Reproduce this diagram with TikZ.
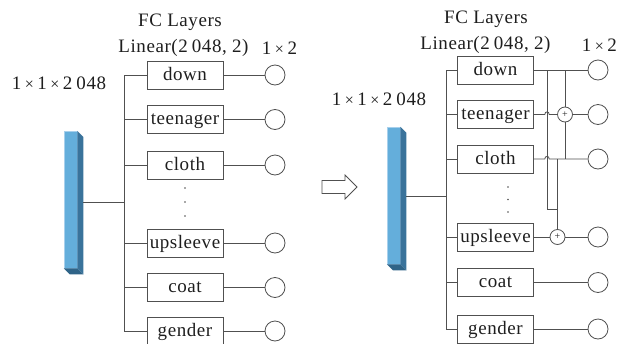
\documentclass[tikz,border=0pt]{standalone}
\usepackage{fontspec}
\setmainfont{Liberation Serif}
\newfontfamily\lblfont{Liberation Serif}[LetterSpace=3]
\usetikzlibrary{calc}
\definecolor{linec}{HTML}{505050}
\definecolor{txtc}{HTML}{1E1E1E}
\definecolor{barfront}{HTML}{64AEDB}
\definecolor{barlight}{HTML}{A8D0EC}
\definecolor{barside}{HTML}{3A739B}
\definecolor{barbottom}{HTML}{2F6488}
% digit-group gap and spaced multiplication sign
\newcommand{\gapsp}{\hspace{4pt}}
\newcommand{\tms}{\hspace{3.5pt}{\fontsize{16pt}{16pt}\selectfont ×}\hspace{3.5pt}}
\tikzset{
  lbl/.style={text=txtc, inner sep=0pt, font={\lblfont\fontsize{19pt}{21pt}\selectfont}},
  fcbox/.style={draw=linec, line width=0.8pt, minimum width=76pt, minimum height=28pt,
    inner sep=0pt, text height=13pt, text depth=3pt, text=txtc,
    font={\lblfont\fontsize{19pt}{21pt}\selectfont}},
  outc/.style={circle, draw=linec, line width=0.8pt, minimum size=20pt, inner sep=0pt},
  plusc/.style={circle, draw=linec, line width=0.8pt, minimum size=15pt, inner sep=0pt,
    text=txtc, font=\fontsize{10pt}{10pt}\selectfont},
  wire/.style={draw=linec, line width=0.8pt},
  barnode/.style={rectangle, fill=barfront, draw=barlight, line width=0.5pt,
    minimum width=13pt, minimum height=137pt, inner sep=0pt},
}
\begin{document}
\begin{tikzpicture}[x=1pt,y=-1pt]
\useasboundingbox (0,0) rectangle (618,343);

% ---------------- left network ----------------
\node[lbl] (fcL) at (180,22) {FC Layers};
\node[lbl] (linL) at (183.5,48) {Linear(2\gapsp 048, 2)};
\node[lbl] (outdimL) at (279.5,48) {1\tms 2};
\node[lbl] (indimL) at (59,83) {1\tms 1\tms 2\gapsp 048};

% feature bar
\node[barnode] (barL) at (70.5,199.5) {};
\fill[barside] (barL.north east) -- ++(6,6) -- ($(barL.south east)+(6,6)$) -- (barL.south east) -- cycle;
\fill[barbottom] (barL.south west) -- (barL.south east) -- ++(6,6) -- ($(barL.south west)+(6,6)$) -- cycle;
\coordinate (barLout) at ($(barL.east)+(6,3)$);

\node[fcbox] (downL) at (185,75) {down};
\node[fcbox] (teenL) at (185,119.5) {teenager};
\node[fcbox] (clothL) at (185,165) {cloth};
\node[fcbox] (upL) at (185,243) {upsleeve};
\node[fcbox] (coatL) at (185,287.5) {coat};
\node[fcbox] (genderL) at (185,331) {gender};

\fill[linec] (185,188) circle (0.9) (185,202) circle (0.9) (185,216) circle (0.9);

\node[outc] (oDownL) at (275,75) {};
\node[outc] (oTeenL) at (275,119.5) {};
\node[outc] (oClothL) at (275,165) {};
\node[outc] (oUpL) at (275,243) {};
\node[outc] (oCoatL) at (275,287.5) {};
\node[outc] (oGenderL) at (275,331) {};

\coordinate (busL) at (124,0);
\draw[wire] (downL.west) -- (downL.west -| busL) -- (genderL.west -| busL) -- (genderL.west);
\foreach \b in {teenL,clothL,upL,coatL}
  \draw[wire] (\b.west -| busL) -- (\b.west);
\draw[wire] (barLout) -- (barLout -| busL);
\foreach \b/\o in {downL/oDownL,teenL/oTeenL,clothL/oClothL,upL/oUpL,coatL/oCoatL,genderL/oGenderL}
  \draw[wire] (\b.east) -- (\o.west);

% ---------------- transition arrow ----------------
\draw[linec, line width=0.8pt, fill=white] (322,180.5) -- (345,180.5) -- (345,175) -- (357,187)
  -- (345,199) -- (345,193.5) -- (322,193.5) -- cycle;

% ---------------- right network ----------------
\node[lbl] (fcR) at (486,19) {FC Layers};
\node[lbl] (linR) at (485.5,45) {Linear(2\gapsp 048, 2)};
\node[lbl, anchor=east] (outdimR) at (617,45) {1\tms 2};
\node[lbl] (indimR) at (379,99) {1\tms 1\tms 2\gapsp 048};

\node[barnode] (barR) at (393.5,195.5) {};
\fill[barside] (barR.north east) -- ++(6,6) -- ($(barR.south east)+(6,6)$) -- (barR.south east) -- cycle;
\fill[barbottom] (barR.south west) -- (barR.south east) -- ++(6,6) -- ($(barR.south west)+(6,6)$) -- cycle;
\coordinate (barRout) at ($(barR.east)+(6,1)$);

\node[fcbox] (downR) at (495.5,70) {down};
\node[fcbox] (teenR) at (495.5,114.5) {teenager};
\node[fcbox] (clothR) at (495.5,159) {cloth};
\node[fcbox] (upR) at (495.5,237) {upsleeve};
\node[fcbox] (coatR) at (495.5,282.5) {coat};
\node[fcbox] (genderR) at (495.5,329) {gender};

\fill[linec] (508,187) circle (0.9) (508,199.5) circle (0.9) (508,212) circle (0.9);

\node[outc] (oDownR) at (598,70) {};
\node[outc] (oTeenR) at (598,114.5) {};
\node[outc] (oClothR) at (598,159) {};
\node[outc] (oUpR) at (598,237) {};
\node[outc] (oCoatR) at (598,282.5) {};
\node[outc] (oGenderR) at (598,329) {};

\node[plusc] (plusTeen) at (565,114.5) {+};
\node[plusc] (plusUp) at (557.5,237) {+};

\coordinate (busR) at (446,0);
\draw[wire] (downR.west) -- (downR.west -| busR) -- (genderR.west -| busR) -- (genderR.west);
\foreach \b in {teenR,clothR,upR,coatR}
  \draw[wire] (\b.west -| busR) -- (\b.west);
\draw[wire] (barRout) -- (barRout -| busR);

% straight outputs
\draw[wire] (downR.east) -- (oDownR.west);
\draw[wire] (coatR.east) -- (oCoatR.west);
\draw[wire] (genderR.east) -- (oGenderR.west);
\draw[wire] (plusTeen.east) -- (oTeenR.west);
\draw[wire] (plusUp.east) -- (oUpR.west);
\draw[wire] (upR.east) -- (plusUp.west);

% outputs that hop over the down-branch feed line
\coordinate (feedX) at (547,0);
\draw[wire] (teenR.east) -- ($(teenR.east -| feedX)+(-2.2,0)$)
  .. controls ($(teenR.east -| feedX)+(-2.2,-3.5)$) and ($(teenR.east -| feedX)+(2.2,-3.5)$)
  .. ($(teenR.east -| feedX)+(2.2,0)$) -- (plusTeen.west);
\draw[wire] (clothR.east) -- ($(clothR.east -| feedX)+(-2.2,0)$)
  .. controls ($(clothR.east -| feedX)+(-2.2,-3.5)$) and ($(clothR.east -| feedX)+(2.2,-3.5)$)
  .. ($(clothR.east -| feedX)+(2.2,0)$) -- (oClothR.west);

% summation feeds
\draw[wire] (downR.east -| plusTeen) -- (plusTeen.north);
\draw[wire] (plusTeen.south) -- (clothR.east -| plusTeen);
\coordinate (loopC) at (547,209);
\draw[wire] (downR.east -| feedX) -- (loopC) -- (loopC -| plusUp) -- (plusUp.north);
\draw[wire] (clothR.east -| plusUp) -- (loopC -| plusUp);
\end{tikzpicture}
\end{document}
